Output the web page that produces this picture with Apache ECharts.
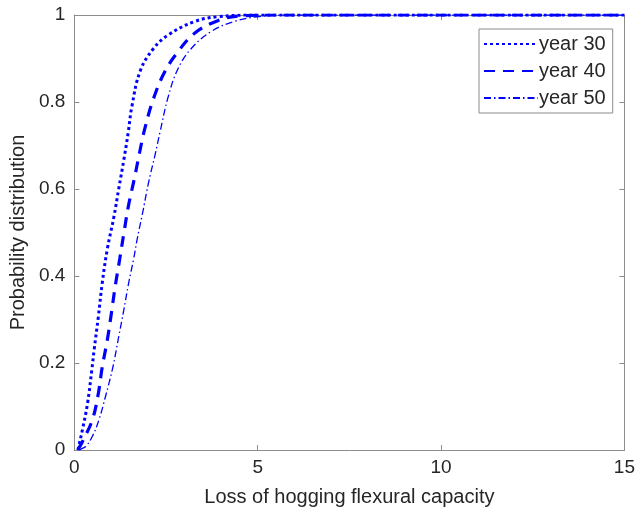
<!DOCTYPE html>
<html>
<head>
<meta charset="utf-8">
<script src="https://cdn.jsdelivr.net/npm/echarts@6/dist/echarts.min.js"></script>
<style>
  html, body { margin: 0; padding: 0; background: #fff; }
  #chart { width: 638px; height: 512px; }
</style>
</head>
<body>
<div id="chart"></div>
<script>
// values
const seriesNames = ['year 30', 'year 40', 'year 50']

const year30X = [0.1, 0.12, 0.22, 0.36, 0.48, 0.54, 0.655, 0.76, 0.9, 1.08, 1.21, 1.35, 1.47, 1.57, 1.8, 2.16, 2.56, 3.28, 3.91, 5, 15]
const year30Y = [0, 0.008, 0.046, 0.107, 0.186, 0.23, 0.306, 0.383, 0.462, 0.536, 0.6, 0.667, 0.73, 0.79, 0.872, 0.923, 0.954, 0.985, 0.996, 1, 1]

const year40X = [0.1, 0.13, 0.22, 0.49, 0.655, 0.76, 0.9, 1.01, 1.12, 1.24, 1.35, 1.48, 1.64, 1.78, 1.92, 2.16, 2.47, 2.83, 3.28, 3.91, 4.53, 5.5, 15]
const year40Y = [0, 0.005, 0.019, 0.069, 0.13, 0.19, 0.253, 0.314, 0.379, 0.44, 0.498, 0.563, 0.625, 0.684, 0.738, 0.808, 0.87, 0.916, 0.958, 0.987, 0.998, 1, 1]

const year50X = [0.15, 0.18, 0.31, 0.49, 0.67, 0.85, 1.05, 1.21, 1.35, 1.48, 1.62, 1.71, 1.86, 2.02, 2.2, 2.34, 2.56, 2.83, 3.19, 3.73, 4.36, 4.99, 6, 15]
const year50Y = [0, 0.002, 0.008, 0.031, 0.069, 0.123, 0.19, 0.26, 0.322, 0.383, 0.44, 0.483, 0.544, 0.613, 0.678, 0.732, 0.812, 0.877, 0.923, 0.962, 0.985, 0.996, 1, 1]

const xTicks = [0, 5, 10, 15]
const yTicks = [0, 0.2, 0.4, 0.6, 0.8, 1]

const pairs = (xs, ys) => xs.map((x, i) => [x, ys[i]])

const font = 'Liberation Sans, Arial, sans-serif'
const boxColor = '#8c8c8c'
const labelColor = '#262626'
const blue = '#0000ff'

const sideAxis = {
  axisLine: { show: true, onZero: false, lineStyle: { color: boxColor, width: 1 } },
  axisTick: { show: true, inside: true, length: 5, lineStyle: { color: boxColor } },
  axisLabel: { show: false },
  splitLine: { show: false }
}

const option = {
  animation: false,
  backgroundColor: '#fff',
  textStyle: { fontFamily: font },
  grid: { left: 71, right: 11, top: 15, bottom: 62 },
  legend: {
    orient: 'vertical',
    left: 479,
    top: 29,
    padding: [5, 7, 5, 4],
    itemWidth: 54,
    itemHeight: 14,
    itemGap: 7,
    borderColor: boxColor,
    borderWidth: 1,
    backgroundColor: '#fff',
    itemStyle: { opacity: 0 },
    textStyle: { fontSize: 20, color: labelColor, fontFamily: font, padding: [0, 0, 0, -4] },
    data: seriesNames
  },
  xAxis: [
    {
      type: 'value',
      min: 0,
      max: 15,
      interval: 5,
      name: 'Loss of hogging flexural capacity',
      nameLocation: 'middle',
      nameGap: 37,
      nameTextStyle: { fontSize: 20, color: labelColor, fontFamily: font },
      axisLine: { show: true, onZero: false, lineStyle: { color: boxColor, width: 1 } },
      axisTick: { show: true, inside: true, length: 5, lineStyle: { color: boxColor } },
      axisLabel: {
        fontSize: 19, color: labelColor, margin: 8, fontFamily: font,
        formatter: v => xTicks.includes(v) ? String(v) : ''
      },
      splitLine: { show: false }
    },
    Object.assign({ type: 'value', min: 0, max: 15, interval: 5, position: 'top' }, sideAxis)
  ],
  yAxis: [
    {
      type: 'value',
      min: 0,
      max: 1,
      interval: 0.2,
      name: 'Probability distribution',
      nameLocation: 'middle',
      nameGap: 44,
      nameTextStyle: { fontSize: 20, color: labelColor, fontFamily: font },
      axisLine: { show: true, onZero: false, lineStyle: { color: boxColor, width: 1 } },
      axisTick: { show: true, inside: true, length: 5, lineStyle: { color: boxColor } },
      axisLabel: {
        fontSize: 19, color: labelColor, margin: 9, fontFamily: font,
        formatter: v => {
          const t = yTicks.find(k => Math.abs(k - v) < 1e-9)
          return t === undefined ? '' : String(t)
        }
      },
      splitLine: { show: false }
    },
    Object.assign({ type: 'value', min: 0, max: 1, interval: 0.2, position: 'right' }, sideAxis)
  ],
  series: [
    {
      name: seriesNames[0],
      type: 'line',
      showSymbol: false,
      symbol: 'none',
      smooth: 0.4,
      data: pairs(year30X, year30Y),
      lineStyle: { color: blue, width: 3, type: [3, 3] },
      itemStyle: { color: blue },
      z: 3
    },
    {
      name: seriesNames[1],
      type: 'line',
      showSymbol: false,
      symbol: 'none',
      smooth: 0.4,
      data: pairs(year40X, year40Y),
      lineStyle: { color: blue, width: 3.2, type: [11, 8] },
      itemStyle: { color: blue },
      z: 3
    },
    {
      name: seriesNames[2],
      type: 'line',
      showSymbol: false,
      symbol: 'none',
      smooth: 0.4,
      data: pairs(year50X, year50Y),
      lineStyle: { color: blue, width: 1.3, type: [7, 3, 1.5, 3] },
      itemStyle: { color: blue },
      z: 3
    }
  ]
}

const chart = echarts.init(document.getElementById('chart'))
chart.setOption(option)
</script>
</body>
</html>
